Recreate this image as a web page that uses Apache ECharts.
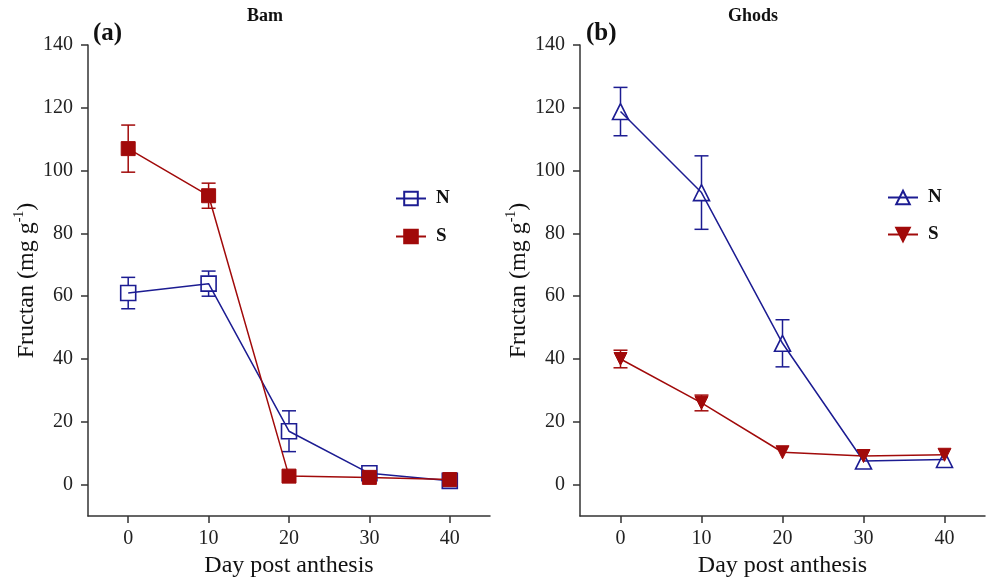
<!DOCTYPE html>
<html>
<head>
<meta charset="utf-8">
<script src="https://cdn.jsdelivr.net/npm/echarts@6/dist/echarts.min.js"></script>
<style>
  html, body { margin: 0; padding: 0; background: #fff; }
  #chart { width: 987px; height: 583px; }
</style>
</head>
<body>
<div id="chart"></div>
<script>
// data
const days = [0, 10, 20, 30, 40];
const bamN = [61, 64, 17, 3.6, 1.2];
const bamNErr = [5, 4, 6.5, 0, 0];
const bamS = [107, 92, 2.7, 2.3, 1.6];
const bamSErr = [7.5, 4, 0, 0, 0];
const ghodsN = [118.8, 93, 45, 7.5, 8];
const ghodsNErr = [7.7, 11.7, 7.5, 0, 0];
const ghodsS = [40, 26, 10.3, 9.1, 9.5];
const ghodsSErr = [2.8, 2.5, 0, 0, 0];
const xTicks = [0, 10, 20, 30, 40];
const yTicks = [0, 20, 40, 60, 80, 100, 120, 140];

const BLUE = '#1c1c92';
const RED = '#a10a0a';
const FONT = '"Liberation Serif", "Times New Roman", serif';

const myChart = echarts.init(document.getElementById('chart'));

function pts(vals) {
  return days.map((d, i) => [d, vals[i]]);
}
function errPts(vals, errs) {
  return days.map((d, i) => [d, vals[i] - errs[i], vals[i] + errs[i], vals[i]]).filter((r, i) => errs[i] > 0);
}

// error bar, skipping the part hidden behind the marker
function errRender(color, half) {
  return function (params, api) {
    const x = api.value(0);
    const lo = api.coord([x, api.value(1)]);
    const hi = api.coord([x, api.value(2)]);
    const mid = api.coord([x, api.value(3)]);
    const cap = 7;
    const st = { stroke: color, lineWidth: 1.5 };
    const kids = [
      { type: 'line', shape: { x1: hi[0] - cap, y1: hi[1], x2: hi[0] + cap, y2: hi[1] }, style: st },
      { type: 'line', shape: { x1: lo[0] - cap, y1: lo[1], x2: lo[0] + cap, y2: lo[1] }, style: st }
    ];
    if (mid[1] - half > hi[1]) kids.push({ type: 'line', shape: { x1: hi[0], y1: hi[1], x2: hi[0], y2: mid[1] - half }, style: st });
    if (mid[1] + half < lo[1]) kids.push({ type: 'line', shape: { x1: lo[0], y1: mid[1] + half, x2: lo[0], y2: lo[1] }, style: st });
    return { type: 'group', children: kids };
  };
}

function xAxisCfg(idx) {
  return {
    type: 'value', gridIndex: idx, min: -5, max: 45,
    name: 'Day post anthesis', nameLocation: 'middle', nameGap: 35,
    nameTextStyle: { fontFamily: FONT, fontSize: 24, color: '#111' },
    axisLine: { onZero: false, lineStyle: { color: '#333', width: 1.5 } },
    axisTick: { show: true, length: 7, customValues: xTicks, lineStyle: { color: '#333', width: 1.5 } },
    axisLabel: { customValues: xTicks, fontFamily: FONT, fontSize: 20, color: '#222', margin: 13 },
    splitLine: { show: false }
  };
}
function yAxisCfg(idx) {
  return {
    type: 'value', gridIndex: idx, min: -10, max: 140,
    name: 'Fructan (mg g{sup|-1})', nameLocation: 'middle', nameGap: 46,
    nameTextStyle: {
      fontFamily: FONT, fontSize: 24, color: '#111',
      rich: { sup: { fontFamily: FONT, fontSize: 14, color: '#111', verticalAlign: 'top', lineHeight: 30 } }
    },
    axisLine: { show: true, onZero: false, lineStyle: { color: '#333', width: 1.5 } },
    axisTick: { show: true, length: 7, customValues: yTicks, lineStyle: { color: '#333', width: 1.5 } },
    axisLabel: { customValues: yTicks, fontFamily: FONT, fontSize: 20, color: '#222', margin: 15 },
    splitLine: { show: false }
  };
}

function lineSeries(name, idx, vals, color, symbol, size, filled, rotate) {
  return {
    name: name, type: 'line', xAxisIndex: idx, yAxisIndex: idx,
    data: pts(vals),
    symbol: symbol, symbolSize: size, symbolRotate: rotate || 0, showAllSymbol: true,
    lineStyle: { color: color, width: 1.5 },
    itemStyle: filled ? { color: color, borderColor: color, borderWidth: 1 }
                      : { color: 'rgba(0,0,0,0)', borderColor: color, borderWidth: 1.6 },
    z: filled ? 4 : 3
  };
}
function errSeries(idx, vals, errs, color, half) {
  return {
    type: 'custom', xAxisIndex: idx, yAxisIndex: idx,
    data: errPts(vals, errs),
    encode: { x: 0, y: [1, 2] },
    renderItem: errRender(color, half),
    silent: true, z: 2
  };
}

let option = {
  animation: false,
  backgroundColor: '#fff',
  grid: [
    { left: 88, right: 497, top: 45, bottom: 67 },
    { left: 580, right: 2, top: 45, bottom: 67 }
  ],
  xAxis: [xAxisCfg(0), xAxisCfg(1)],
  yAxis: [yAxisCfg(0), yAxisCfg(1)],
  legend: [
    {
      data: ['aN', 'aS'], orient: 'vertical', left: 390, top: 184,
      itemWidth: 30, itemHeight: 17, itemGap: 19,
      formatter: n => n.slice(1),
      textStyle: { fontFamily: FONT, fontWeight: 'bold', fontSize: 19, color: '#111', padding: [0, 0, 0, 5] }
    },
    {
      data: ['bN', 'bS'], orient: 'vertical', left: 882, top: 183,
      itemWidth: 30, itemHeight: 17, itemGap: 18,
      formatter: n => n.slice(1),
      textStyle: { fontFamily: FONT, fontWeight: 'bold', fontSize: 19, color: '#111', padding: [0, 0, 0, 5] }
    }
  ],
  graphic: [
    { type: 'text', left: 247, top: 7, style: { text: 'Bam', font: 'bold 18px ' + FONT, fill: '#111' } },
    { type: 'text', left: 93, top: 21, style: { text: '(a)', font: 'bold 25px ' + FONT, fill: '#111' } },
    { type: 'text', left: 728, top: 7, style: { text: 'Ghods', font: 'bold 18px ' + FONT, fill: '#111' } },
    { type: 'text', left: 586, top: 21, style: { text: '(b)', font: 'bold 25px ' + FONT, fill: '#111' } }
  ],
  series: [
    errSeries(0, bamN, bamNErr, BLUE, 8),
    errSeries(0, bamS, bamSErr, RED, 7),
    lineSeries('aN', 0, bamN, BLUE, 'rect', 15, false),
    lineSeries('aS', 0, bamS, RED, 'rect', 14, true),
    errSeries(1, ghodsN, ghodsNErr, BLUE, 8),
    errSeries(1, ghodsS, ghodsSErr, RED, 6),
    lineSeries('bN', 1, ghodsN, BLUE, 'triangle', 16, false),
    lineSeries('bS', 1, ghodsS, RED, 'triangle', 13, true, 180)
  ]
};

myChart.setOption(option);
</script>
</body>
</html>
